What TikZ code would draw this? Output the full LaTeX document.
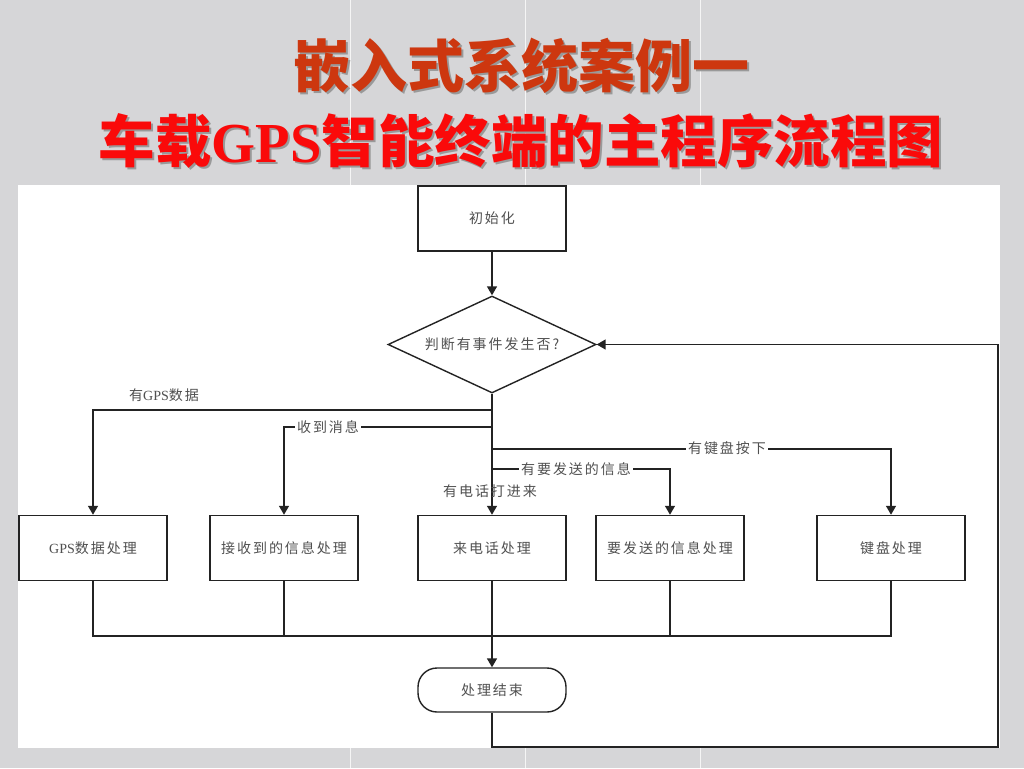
\documentclass[tikz,border=0pt]{standalone}
\usepackage{fontspec}
\setmainfont{Liberation Serif}
\newfontfamily\cjk{Noto Sans CJK SC}
\newfontfamily\cjkd{Noto Sans CJK SC}[LetterSpace=14]
\usetikzlibrary{shapes.geometric,arrows.meta}
\definecolor{bgmarble}{RGB}{214,214,216}
\definecolor{seam}{RGB}{245,245,245}
\definecolor{titleA}{RGB}{205,55,15}
\definecolor{titleB}{RGB}{250,10,10}
\definecolor{linec}{RGB}{35,35,35}
\definecolor{txtc}{RGB}{80,80,80}
\newcommand\diagfont{\fontsize{14}{16}\cjkd}
\newcommand\titlefontA{\fontsize{57}{60}\cjk\bfseries}
\newcommand\titlefontB{\fontsize{56.5}{60}\cjk\bfseries}
\tikzset{
  box/.style={draw=linec, line width=1.5pt, minimum width=148pt, minimum height=65pt, inner sep=0pt, font=\diagfont, text=txtc},
  decbox/.style={draw=linec, line width=1.4pt, shape=diamond, aspect=2.14, minimum width=208pt, minimum height=97pt, inner sep=0pt, font=\diagfont, text=txtc},
  termbox/.style={draw=linec, line width=1.4pt, rounded corners=19pt, minimum width=148pt, minimum height=44pt, inner sep=0pt, font=\diagfont, text=txtc},
  ln/.style={draw=linec, line width=1.5pt},
  arr/.style={ln, -{Triangle[length=9pt,width=10pt]}},
  lab/.style={font=\diagfont, text=txtc, inner sep=1.5pt},
  labw/.style={lab, fill=white, inner sep=2.5pt},
}
\begin{document}
\begin{tikzpicture}[x=1pt,y=-1pt]
\useasboundingbox (0,0) rectangle (1024,768);
% background
\fill[bgmarble] (0,0) rectangle (1024,768);
\foreach \sx in {350,525,700} \draw[seam, line width=0.8pt] (\sx,0) -- (\sx,768);
\fill[white] (18,185) rectangle (1000,748);
% title
\node[font=\titlefontA, text=black!40, anchor=center] (t1s) at (523,68) {嵌入式系统案例一};
\node[font=\titlefontA, text=titleA, anchor=center] (t1) at (521,66) {嵌入式系统案例一};
\node[font=\titlefontB, text=black!40, anchor=center] (t2s) at (523,143) {车载{\rmfamily\bfseries GPS}智能终端的主程序流程图};
\node[font=\titlefontB, text=titleB, anchor=center] (t2) at (521,141) {车载{\rmfamily\bfseries GPS}智能终端的主程序流程图};
% nodes
\node[box] (init) at (492,218.5) {初始化};
\node[decbox] (dec) at (492,344.5) {判断有事件发生否?};
\node[box] (b1) at (93,548) {{\rmfamily GPS}数据处理};
\node[box] (b2) at (284,548) {接收到的信息处理};
\node[box] (b3) at (492,548) {来电话处理};
\node[box] (b4) at (670,548) {要发送的信息处理};
\node[box] (b5) at (891,548) {键盘处理};
\node[termbox] (term) at (492,690) {处理结束};
% junctions
\coordinate (j1) at (492,410);
\coordinate (j2) at (492,427);
\coordinate (j3) at (492,449);
\coordinate (j4) at (492,469);
\coordinate (mrg) at (492,636);
\coordinate (r1) at (998,747);
% connectors
\draw[arr] (init) -- (dec);
\draw[arr] (dec.south) -- (b3.north);
\draw[arr] (j1) -| (b1.north);
\draw[arr] (j2) -| (b2.north);
\draw[arr] (j3) -| (b5.north);
\draw[arr] (j4) -| (b4.north);
\draw[ln] (b1.south) |- (mrg);
\draw[ln] (b5.south) |- (mrg);
\draw[ln] (b2.south) -- (b2.south |- mrg);
\draw[ln] (b4.south) -- (b4.south |- mrg);
\draw[arr] (b3.south) -- (term.north);
\draw[arr] (term.south) |- (r1) |- (dec.east);
% labels
\node[lab] (l1) at (164,395) {有{\rmfamily GPS}数据};
\node[labw] (l2) at (328,427) {收到消息};
\node[labw] (l3) at (727,448) {有键盘按下};
\node[labw] (l4) at (576,469) {有要发送的信息};
\node[lab] (l5) at (490,491) {有电话打进来};
\end{tikzpicture}
\end{document}
